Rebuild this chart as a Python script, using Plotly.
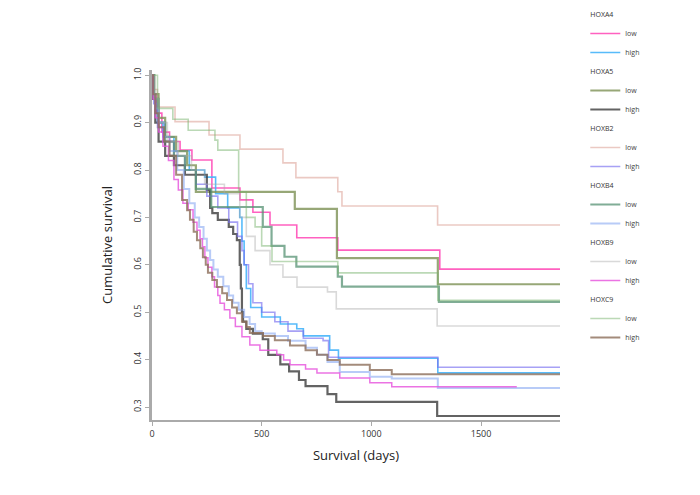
import plotly.graph_objects as go

# ---- data (days, cumulative survival), step curves ----
hoxa4_low_t = [0, 8, 20, 45, 80, 128, 182, 273, 401, 460, 538, 660, 847, 1312, 1860]
hoxa4_low_s = [1.0, 0.96, 0.92, 0.88, 0.86, 0.842, 0.821, 0.762, 0.737, 0.711, 0.684, 0.657, 0.631, 0.591, 0.591]

hoxa4_high_t = [0, 8, 25, 50, 100, 170, 240, 290, 345, 400, 410, 420, 430, 450, 500, 585, 660, 690, 810, 850, 1303, 1860]
hoxa4_high_s = [1.0, 0.95, 0.9, 0.87, 0.84, 0.80, 0.785, 0.75, 0.72, 0.70, 0.65, 0.6, 0.55, 0.51, 0.49, 0.475, 0.465, 0.45, 0.42, 0.403, 0.372, 0.372]

hoxa5_low_t = [0, 10, 30, 60, 110, 160, 200, 651, 843, 1303, 1860]
hoxa5_low_s = [1.0, 0.96, 0.91, 0.87, 0.84, 0.81, 0.754, 0.718, 0.614, 0.559, 0.559]

hoxa5_high_t = [0, 5, 15, 30, 60, 100, 150, 250, 265, 275, 300, 350, 370, 387, 400, 405, 410, 415, 430, 460, 505, 530, 585, 625, 670, 700, 800, 840, 1300, 1860]
hoxa5_high_s = [1.0, 0.95, 0.9, 0.86, 0.83, 0.81, 0.79, 0.758, 0.72, 0.709, 0.695, 0.68, 0.665, 0.652, 0.6, 0.55, 0.5, 0.48, 0.465, 0.455, 0.443, 0.41, 0.39, 0.375, 0.357, 0.344, 0.327, 0.311, 0.281, 0.281]

hoxb2_low_t = [0, 10, 25, 105, 260, 401, 597, 656, 847, 866, 1302, 1860]
hoxb2_low_s = [1.0, 0.97, 0.933, 0.902, 0.874, 0.844, 0.815, 0.784, 0.754, 0.724, 0.684, 0.684]

hoxb2_high_t = [0, 8, 25, 50, 100, 150, 200, 250, 300, 350, 390, 410, 420, 440, 460, 500, 560, 620, 690, 780, 805, 1303, 1860]
hoxb2_high_s = [1.0, 0.94, 0.89, 0.86, 0.83, 0.8, 0.77, 0.745, 0.72, 0.69, 0.66, 0.63, 0.6, 0.56, 0.52, 0.5, 0.48, 0.46, 0.445, 0.44, 0.405, 0.384, 0.384]

hoxb4_low_t = [0, 10, 30, 60, 100, 150, 200, 270, 505, 545, 604, 658, 847, 866, 1308, 1860]
hoxb4_low_s = [1.0, 0.95, 0.9, 0.86, 0.83, 0.8, 0.76, 0.722, 0.68, 0.64, 0.617, 0.596, 0.575, 0.554, 0.522, 0.522]

hoxb4_high_t = [0, 5, 15, 30, 55, 80, 115, 145, 170, 195, 215, 235, 250, 265, 280, 300, 325, 350, 370, 395, 420, 445, 470, 500, 560, 620, 700, 752, 800, 856, 993, 1093, 1303, 1860]
hoxb4_high_s = [1.0, 0.96, 0.93, 0.9, 0.87, 0.84, 0.80, 0.76, 0.73, 0.7, 0.68, 0.655, 0.63, 0.61, 0.59, 0.575, 0.555, 0.535, 0.52, 0.505, 0.49, 0.475, 0.46, 0.455, 0.45, 0.44, 0.425, 0.41, 0.395, 0.374, 0.364, 0.36, 0.34, 0.34]

hoxb9_low_t = [0, 10, 30, 70, 120, 180, 240, 330, 400, 430, 470, 538, 597, 661, 800, 840, 1300, 1860]
hoxb9_low_s = [1.0, 0.95, 0.9, 0.86, 0.83, 0.8, 0.77, 0.75, 0.7, 0.66, 0.63, 0.60, 0.574, 0.553, 0.543, 0.507, 0.471, 0.471]

hoxb9_high_t = [0, 5, 15, 30, 50, 75, 100, 120, 141, 165, 187, 205, 219, 230, 241, 255, 273, 285, 300, 310, 330, 355, 380, 410, 446, 492, 569, 600, 629, 700, 752, 856, 993, 1093, 1663]
hoxb9_high_s = [1.0, 0.95, 0.91, 0.88, 0.85, 0.82, 0.78, 0.758, 0.73, 0.716, 0.69, 0.673, 0.655, 0.638, 0.615, 0.595, 0.575, 0.553, 0.535, 0.519, 0.505, 0.488, 0.47, 0.448, 0.431, 0.42, 0.41, 0.399, 0.389, 0.38, 0.372, 0.361, 0.351, 0.343, 0.343]

hoxc9_low_t = [0, 25, 95, 165, 287, 300, 395, 430, 470, 500, 547, 847, 1303, 1860]
hoxc9_low_s = [1.0, 0.93, 0.907, 0.884, 0.863, 0.842, 0.754, 0.70, 0.68, 0.64, 0.607, 0.583, 0.525, 0.525]

hoxc9_high_t = [0, 5, 15, 30, 55, 80, 110, 137, 160, 173, 190, 205, 220, 232, 245, 255, 275, 296, 320, 342, 365, 387, 410, 430, 446, 506, 560, 629, 700, 752, 800, 856, 993, 1093, 1860]
hoxc9_high_s = [1.0, 0.96, 0.92, 0.89, 0.86, 0.83, 0.79, 0.737, 0.715, 0.695, 0.67, 0.652, 0.635, 0.616, 0.6, 0.583, 0.568, 0.553, 0.54, 0.526, 0.51, 0.498, 0.48, 0.469, 0.456, 0.45, 0.441, 0.43, 0.42, 0.41, 0.399, 0.389, 0.378, 0.369, 0.369]

genes = ["HOXA4", "HOXA5", "HOXB2", "HOXB4", "HOXB9", "HOXC9"]
x_ticks = [0, 500, 1000, 1500]
y_ticks = [0.3, 0.4, 0.5, 0.6, 0.7, 0.8, 0.9, 1.0]

series = [
    ("HOXA4", "low", hoxa4_low_t, hoxa4_low_s, "rgba(255,80,185,0.9)", 1.6),
    ("HOXA4", "high", hoxa4_high_t, hoxa4_high_s, "rgba(70,180,250,0.9)", 1.6),
    ("HOXA5", "low", hoxa5_low_t, hoxa5_low_s, "rgba(125,145,85,0.8)", 2.2),
    ("HOXA5", "high", hoxa5_high_t, hoxa5_high_s, "rgba(60,60,60,0.8)", 2.2),
    ("HOXB2", "low", hoxb2_low_t, hoxb2_low_s, "rgba(205,120,105,0.4)", 1.6),
    ("HOXB2", "high", hoxb2_high_t, hoxb2_high_s, "rgba(120,110,240,0.65)", 1.6),
    ("HOXB4", "low", hoxb4_low_t, hoxb4_low_s, "rgba(85,145,115,0.75)", 2.2),
    ("HOXB4", "high", hoxb4_high_t, hoxb4_high_s, "rgba(125,160,240,0.55)", 2.0),
    ("HOXB9", "low", hoxb9_low_t, hoxb9_low_s, "rgba(170,170,170,0.45)", 1.6),
    ("HOXB9", "high", hoxb9_high_t, hoxb9_high_s, "rgba(230,80,220,0.8)", 1.5),
    ("HOXC9", "low", hoxc9_low_t, hoxc9_low_s, "rgba(120,180,110,0.5)", 1.6),
    ("HOXC9", "high", hoxc9_high_t, hoxc9_high_s, "rgba(140,110,90,0.8)", 2.0),
]

fig = go.Figure()
for gene, lvl, t, s, col, w in series:
    fig.add_trace(go.Scatter(
        x=t, y=s, mode="lines", line=dict(color=col, width=w, shape="hv"),
        name=lvl, legendgroup=gene,
        legendgrouptitle=dict(text=gene, font=dict(size=7, color="#333")),
    ))

fig.update_layout(
    width=692, height=487,
    margin=dict(l=144, r=140, t=62, b=75, autoexpand=False),
    paper_bgcolor="white", plot_bgcolor="white",
    font=dict(family="Open Sans, Noto Sans, sans-serif", color="#222"),
    showlegend=True,
    legend=dict(x=1.062, y=1.2, xanchor="left", yanchor="top",
                font=dict(size=7, color="#444"), tracegroupgap=0,
                itemwidth=30, bgcolor="rgba(0,0,0,0)", maxheight=485),
    xaxis=dict(range=[0, 1860], tickvals=x_ticks, ticktext=[str(v) for v in x_ticks],
               showline=True, linecolor="#aaaaaa", linewidth=2,
               ticks="outside", ticklen=4, tickcolor="#aaaaaa",
               showgrid=False, zeroline=False, tickfont=dict(size=9, color="#333"),
               title=dict(text="Survival (days)", font=dict(size=13, color="#222"), standoff=12)),
    yaxis=dict(range=[0.2726, 1.011], tickvals=y_ticks, ticktext=[f"{v:.1f}" for v in y_ticks],
               tickangle=-90,
               showline=True, linecolor="#aaaaaa", linewidth=3,
               ticks="outside", ticklen=4, tickcolor="#aaaaaa",
               showgrid=False, zeroline=False, tickfont=dict(size=9, color="#333"),
               title=dict(text="Cumulative survival", font=dict(size=13, color="#222"), standoff=16)),
)

fig.write_html("out.html")
